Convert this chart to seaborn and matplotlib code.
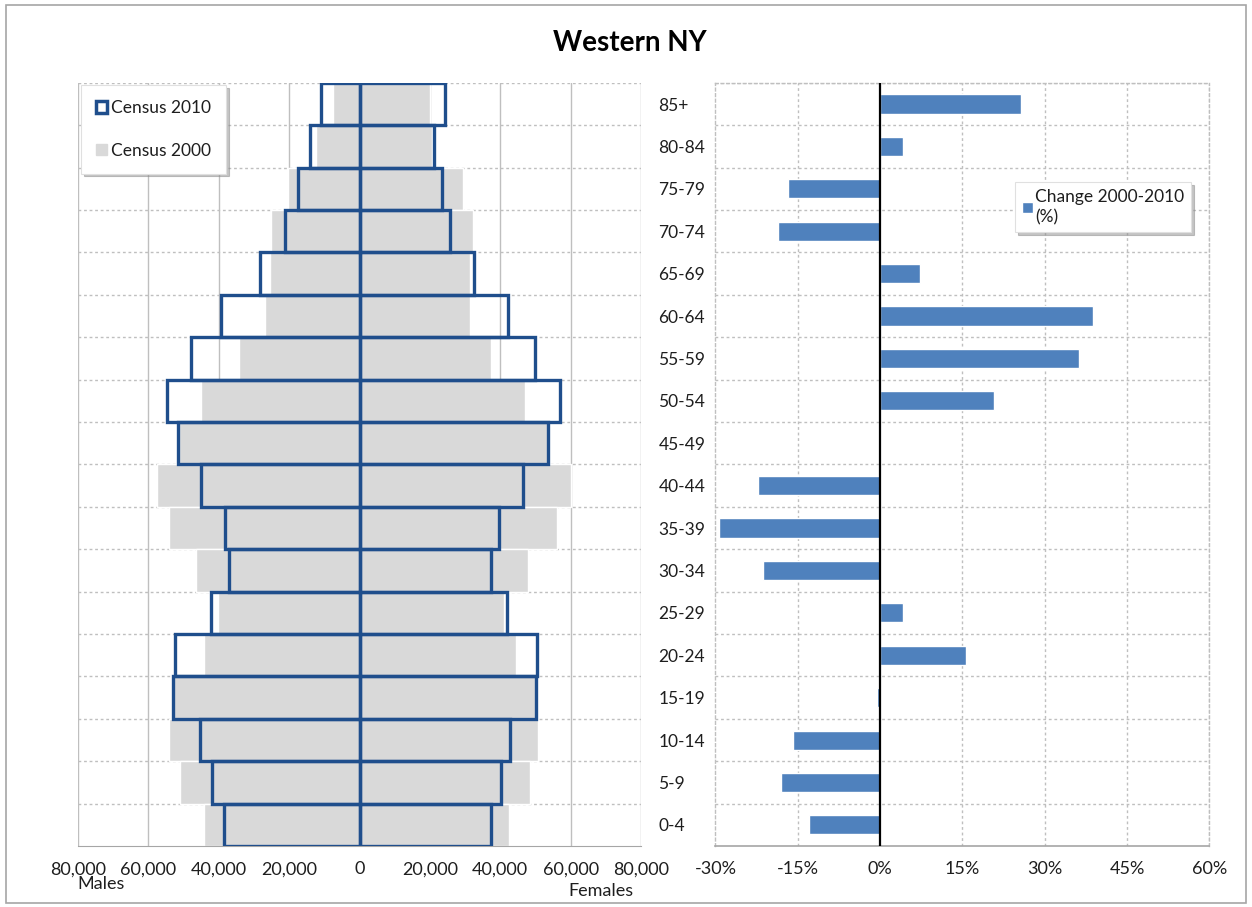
import seaborn as sns
import pandas as pd
import matplotlib.pyplot as plt
from matplotlib.patches import Patch, Rectangle
from matplotlib.ticker import FuncFormatter, MultipleLocator

ages = ["85+", "80-84", "75-79", "70-74", "65-69", "60-64", "55-59", "50-54", "45-49",
        "40-44", "35-39", "30-34", "25-29", "20-24", "15-19", "10-14", "5-9", "0-4"]

males_2000 = [7600, 12300, 20300, 25100, 25500, 27000, 34200, 45100, 51300,
              57600, 54100, 46400, 40200, 44300, 53100, 54000, 51100, 44300]
females_2000 = [19900, 20700, 29400, 32300, 31500, 31300, 37500, 47100, 53900,
                60100, 56000, 47800, 41100, 44400, 50400, 50800, 48400, 42400]
males_2010 = [10900, 14100, 17400, 21200, 28300, 39500, 48000, 54600, 51600,
              45100, 38300, 37000, 42200, 52400, 52900, 45300, 41800, 38400]
females_2010 = [24300, 21200, 23400, 25800, 32400, 42200, 50000, 57100, 53600,
                46500, 39700, 37300, 41900, 50300, 50200, 42900, 40200, 37300]

change_pct = [25.6, 4.2, -16.7, -18.6, 7.3, 38.8, 36.2, 20.7, 0.0,
              -22.3, -29.3, -21.3, 4.2, 15.6, -0.5, -15.9, -18.0, -12.9]

pop = pd.DataFrame({"age": ages,
                    "m2000": [-v for v in males_2000], "f2000": females_2000,
                    "m2010": [-v for v in males_2010], "f2010": females_2010})
chg = pd.DataFrame({"age": ages, "change": change_pct})

sns.set_style("white")
plt.rcParams['font.family'] = ['Lato', 'DejaVu Sans']

navy = "#1F4E8C"
grey = "#D9D9D9"
blue = "#4F81BD"
txt = "#1E1E1E"

fig = plt.figure(figsize=(12.52, 9.07), dpi=100)
fig.patches.append(Rectangle((0.005, 0.004), 0.99, 0.99, transform=fig.transFigure,
                             fill=False, edgecolor="#A6A6A6", linewidth=1.2))
fig.text(0.503, 0.953, "Western NY", ha="center", va="center", fontsize=20,
         fontweight="bold", color="black")

# population pyramid
ax = fig.add_axes([0.0623, 0.0672, 0.4497, 0.8415])
for col in ["m2000", "f2000"]:
    sns.barplot(data=pop, x=col, y="age", order=ages, orient="h", color=grey,
                width=1.0, saturation=1, ax=ax, zorder=2)
for col in ["m2010", "f2010"]:
    sns.barplot(data=pop, x=col, y="age", order=ages, orient="h", fill=False,
                color=navy, width=1.0, linewidth=2.4, ax=ax, zorder=3)
for p in ax.patches[-36:]:
    p.set_edgecolor(navy)
ax.set_xlim(-80000, 80000)
ax.set_ylim(len(ages) - 0.5, -0.5)
ax.xaxis.set_major_locator(MultipleLocator(20000))
ax.xaxis.set_major_formatter(FuncFormatter(lambda v, p: f"{abs(v):,.0f}"))
ax.set_yticks([])
ax.set_xlabel("")
ax.set_ylabel("")
for v in range(-80000, 80001, 20000):
    ax.axvline(v, color="#BFBFBF", lw=1.0, zorder=0)
for i in range(len(ages)):
    ax.axhline(i - 0.5, color="#BFBFBF", lw=1.0, ls=(0, (2, 2)), zorder=0)
for s in ["left", "right", "top"]:
    ax.spines[s].set_visible(False)
ax.spines["bottom"].set_color("#A6A6A6")
ax.tick_params(axis="x", direction="out", length=5, color="#A6A6A6",
               labelsize=13, labelcolor=txt, pad=6)
fig.text(0.062, 0.025, "Males", fontsize=13, color=txt, ha="left", va="center")
fig.text(0.506, 0.018, "Females", fontsize=13, color=txt, ha="right", va="center")

leg = ax.legend(handles=[Patch(facecolor="white", edgecolor=navy, linewidth=2.5),
                         Patch(facecolor=grey, edgecolor=grey)],
                labels=["Census 2010", "Census 2000"],
                loc="upper left", bbox_to_anchor=(0.005, 0.997), fontsize=12.5,
                labelspacing=1.55, handlelength=0.65, handleheight=0.65,
                handletextpad=0.25, borderpad=0.85, borderaxespad=0,
                frameon=True, fancybox=False,
                shadow={"color": "#8C8C8C", "alpha": 0.5})
leg.get_frame().set_edgecolor("#E0E0E0")
leg.get_frame().set_linewidth(0.8)
leg.set_zorder(10)
for t in leg.get_texts():
    t.set_color(txt)

# change chart
ax2 = fig.add_axes([0.5714, 0.0672, 0.3946, 0.8415])
sns.barplot(data=chg, x="change", y="age", order=ages, orient="h", color=blue,
            width=0.45, saturation=1, ax=ax2, zorder=3)
ax2.set_xlim(-30, 60)
ax2.set_ylim(len(ages) - 0.5, -0.5)
ax2.xaxis.set_major_locator(MultipleLocator(15))
ax2.xaxis.set_major_formatter(FuncFormatter(lambda v, p: f"{v:.0f}%"))
ax2.set_xlabel("")
ax2.set_ylabel("")
ax2.axvline(0, color="black", lw=1.6, zorder=4)
for v in range(-15, 61, 15):
    if v != 0:
        ax2.axvline(v, color="#BFBFBF", lw=1.0, ls=(0, (2, 2)), zorder=0)
for i in range(len(ages)):
    ax2.axhline(i - 0.5, color="#BFBFBF", lw=1.0, ls=(0, (2, 2)), zorder=0)
for s in ["left", "right", "top"]:
    ax2.spines[s].set_color("#BFBFBF")
    ax2.spines[s].set_linestyle((0, (2, 2)))
    ax2.spines[s].set_linewidth(1.0)
ax2.spines["bottom"].set_color("#A6A6A6")
ax2.spines["bottom"].set_linewidth(1.2)
ax2.tick_params(axis="x", direction="out", length=5, color="#A6A6A6",
                labelsize=13, labelcolor=txt, pad=6)
ax2.tick_params(axis="y", length=0, labelsize=12.5, labelcolor=txt, pad=41)
for lab in ax2.get_yticklabels():
    lab.set_ha("left")

leg2 = ax2.legend(handles=[Patch(facecolor=blue)], labels=["Change 2000-2010\n(%)"],
                  loc="upper left", bbox_to_anchor=(0.607, 0.87), fontsize=12.5,
                  handlelength=0.6, handleheight=0.6, handletextpad=0.15,
                  borderpad=0.4, borderaxespad=0, frameon=True, fancybox=False,
                  shadow={"color": "#8C8C8C", "alpha": 0.5})
leg2.get_frame().set_edgecolor("#E0E0E0")
leg2.get_frame().set_linewidth(0.8)
leg2.set_zorder(10)
for t in leg2.get_texts():
    t.set_color(txt)
    t.set_linespacing(1.3)
    t.set_fontsize(12.5)

fig.savefig("out.png", dpi=100)
